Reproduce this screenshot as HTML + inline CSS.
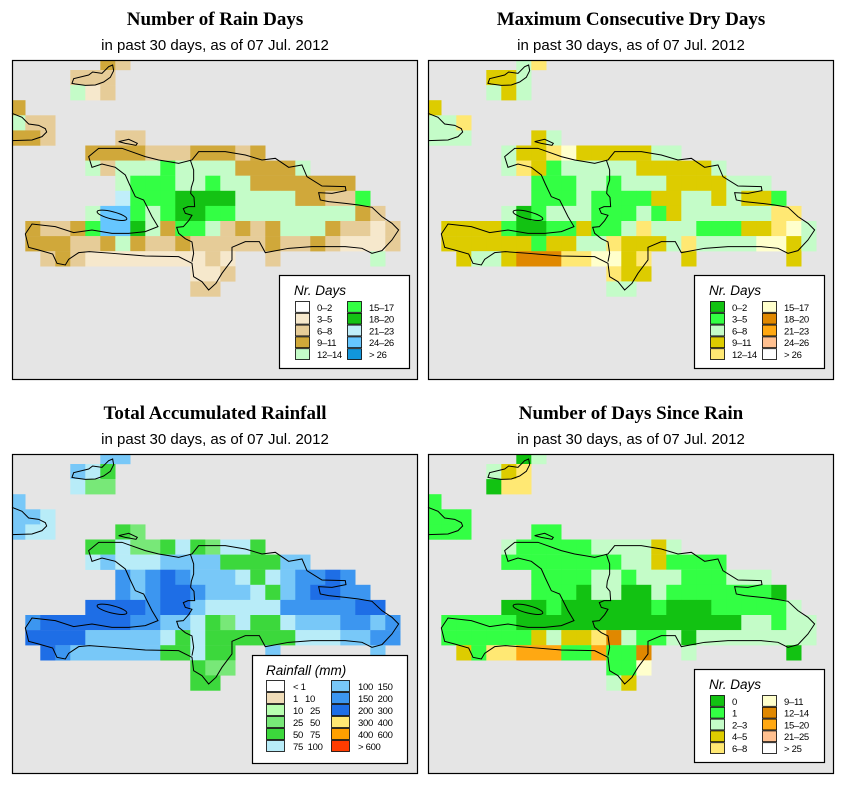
<!DOCTYPE html>
<html><head><meta charset="utf-8">
<style>
body{margin:0;background:#fff;width:853px;height:793px;overflow:hidden;font-family:"Liberation Sans",sans-serif}
svg{display:block}
.t{font-family:"Liberation Serif",serif;font-weight:bold;font-size:19px;text-anchor:middle}
.s{font-family:"Liberation Sans",sans-serif;font-size:15px;text-anchor:middle}
.lt{font-family:"Liberation Sans",sans-serif;font-style:italic;font-size:13.5px}
.ll{font-family:"Liberation Sans",sans-serif;font-size:9.5px;white-space:pre;letter-spacing:-0.3px}
</style></head><body>
<svg id="root" width="853" height="793" viewBox="0 0 853 793"></svg>
<script>
// ---- data ----
const rainDaysGrid=[
"......dc..................",
"....ccc...................",
"....ebc...................",
"d.........................",
"ecc.......................",
"ddc....cc.................",
".....ddddcccdddcd.........",
".....eceeefeeeedddde......",
".......efffeefeeddddddd...",
".......hfffggggeeeeddccf..",
".....eiifefggffeeeeeeeedc.",
".dccdfiigedffecdcdeeedccbc",
".dddccdedccdcccccdccdcbbbc",
"..cdcbbbbbbbbcb..c......e.",
"............bbc...........",
"............cc............"];
const dryDaysGrid=[
"......ce..................",
"....ddc...................",
"....cdc...................",
"d.........................",
"cce.......................",
"ccc....dc.................",
".....cddefdddddcc.........",
".....cedbcccccdddddc......",
".......bbbccbcccddddccc...",
".......bbbcbbbbddccdcddb..",
".....cabcccbbbcbdccccccee.",
".ddddbaabbdbbcecccbbbddefc",
".ddddddbddccedddceccccffdc",
"..dccdgggeeffde..d......d.",
"............edd...........",
"............cc............"];
const rainfallGrid=[
"......gg..................",
"....gfe...................",
"....fdd...................",
"g.........................",
"ggf.......................",
"gff....ed.................",
".....eefddefedffe.........",
".....fgfffggggeeeegg......",
".......hghihgggfefghhih...",
".......hghiihgggfeghiihh..",
".....iiiihiigfffffhhhhhii.",
".hiiiiiihhggfedfeefggghhgh",
".iiiigggggfefeeeeeefffgghh",
"..ihggggggeefee..g......g.",
"............edd...........",
"............ee............"];
const sinceRainGrid=[
"......ac..................",
"....cde...................",
"....aee...................",
"b.........................",
"bbb.......................",
"bbb....bb.................",
".....cbbbbbccccdc.........",
".....bbbbbbbbccdbbbb......",
".......bbbbccbcccbbbccc...",
".......bbbaccaacbbbbbbba..",
".....aaabaaaaaabaaabbbbbc.",
".bbbbbaaaaaaaaaaaaaaaccbcc",
".bbbbbbdcddegcbbcacccccccc",
"..dbeehhhbbhbbg..c......a.",
"............bbf...........",
"............cd............"];
const rainDaysColors={a:"#ffffff",b:"#f6e8cc",c:"#e6cc98",d:"#d0a83a",e:"#c4fcc8",f:"#33ff44",g:"#14c214",h:"#c0eefa",i:"#66c6ff",j:"#1196dc"};
const dryDaysColors={a:"#12c212",b:"#33ff44",c:"#c4fcc8",d:"#ddcc00",e:"#ffe873",f:"#ffffcc",g:"#e08800",h:"#ffa812",i:"#ffc090",j:"#ffffff"};
const rainfallColors={a:"#ffffff",b:"#f0dcb8",c:"#b8ffb0",d:"#78e878",e:"#3cd83c",f:"#b8ecf8",g:"#78c8f8",h:"#3c96f0",i:"#1e6ee6",k:"#ffe873",l:"#ffa000",m:"#ff3c00"};
const sinceRainColors={a:"#12c212",b:"#33ff44",c:"#c4fcc8",d:"#ddcc00",e:"#ffe873",f:"#ffffcc",g:"#e08800",h:"#ffa812",i:"#ffc090",j:"#ffffff"};
const rainDaysLegendKeys=["a","b","c","d","e","f","g","h","i","j"];
const rainDaysLegendLabels=["0–2","3–5","6–8","9–11","12–14","15–17","18–20","21–23","24–26","> 26"];
const dryDaysLegendKeys=["a","b","c","d","e","f","g","h","i","j"];
const dryDaysLegendLabels=["0–2","3–5","6–8","9–11","12–14","15–17","18–20","21–23","24–26","> 26"];
const rainfallLegendKeys=["a","b","c","d","e","f","g","h","i","k","l","m"];
const rainfallLegendLabels=["< 1","1   10","10   25","25   50","50   75","75  100","100  150","150  200","200  300","300  400","400  600","> 600"];
const sinceRainLegendKeys=["a","b","c","d","e","f","g","h","i","j"];
const sinceRainLegendLabels=["0","1","2–3","4–5","6–8","9–11","12–14","15–20","21–25","> 25"];

const NS="http://www.w3.org/2000/svg";
const root=document.getElementById('root');
function mk(tag,attrs,parent){const e=document.createElementNS(NS,tag);for(const k in attrs)e.setAttribute(k,attrs[k]);(parent||root).appendChild(e);return e;}

const coast="M230,290 L260,265 L330,265 L400,290 L440,300 L470,305 L500,310 L540,300 L560,275 L640,275 L700,285 L750,300 L790,295 L830,322 L870,315 L885,350 L930,378 L1000,380 L1002,392 L960,400 L920,398 L925,420 L950,425 L1000,430 L1040,435 L1080,442 L1110,470 L1140,490 L1160,510 L1140,540 L1110,572 L1080,580 L1050,565 L1000,560 L900,560 L830,565 L760,578 L742,545 L700,545 L660,562 L660,600 L630,640 L612,670 L590,690 L570,665 L545,650 L540,610 L500,590 L400,588 L300,580 L232,575 L200,578 L170,598 L160,615 L135,610 L122,582 L80,570 L50,562 L40,522 L60,492 L130,500 L185,518 L240,510 L300,520 L350,520 L400,515 L438,500 L420,470 L405,440 L395,420 L370,410 L352,372 L340,345 L310,322 L270,312 L240,322 L230,290 Z";
const cubaTip="M0,160 L30,172 L50,192 L80,196 L100,206 L104,216 L90,230 L60,240 L0,242";
const inagua="M180,70 L185,56 L230,45 L242,36 L270,40 L290,20 L302,15 L305,32 L295,52 L275,66 L250,75 L220,76 L190,72 Z";
const tortuga="M320,245 L350,238 L376,250 L372,256 L340,250 Z";
const border="M535,300 L545,330 L545,360 L538,382 L536,400 L546,412 L548,440 L528,440 L514,446 L520,460 L540,466 L530,482 L514,500 L494,502 L500,520 L520,536 L540,546 L545,580 L540,605";

function panel(name,fx,fy,title,grid,colors,legTitle,legKeys,legLabels,leg){
  const g=mk('g',{});
  
  
  const cx=fx+203;
  const t=mk('text',{x:cx,y:fy-35,class:'t'},g);t.textContent=title;
  
  const s=mk('text',{x:cx,y:fy-10,class:'s'},g);s.textContent="in past 30 days, as of  07 Jul. 2012";
  
  const clipId='c'+name;
  const cp=mk('clipPath',{id:clipId},g);mk('rect',{x:fx,y:fy,width:405,height:319},cp);
  const bg=mk('rect',{x:fx,y:fy,width:405,height:319,fill:'#e5e5e5'},g);
  
  const cells=mk('g',{'clip-path':'url(#'+clipId+')'},g);
  
  grid.forEach((row,q)=>{for(let p=0;p<row.length;p++){const ch=row[p];if(ch==='.')continue;
    const r=mk('rect',{x:fx-1.7+15*p,y:fy-5.1+15.1*q,width:15.2,height:15.3,fill:colors[ch]},cells);
    }});
  const cg=mk('g',{transform:`translate(${fx},${fy}) scale(0.3333)`,'fill':'none',stroke:'#000','stroke-width':3},g);
  
  [coast,cubaTip,inagua,tortuga,border].forEach(d=>mk('path',{d:d},cg));
  mk('ellipse',{cx:300,cy:466,rx:46,ry:11,transform:'rotate(14 300 466)'},cg);
  const fr=mk('rect',{x:fx+0.5,y:fy+0.5,width:405,height:319,fill:'none',stroke:'#000','stroke-width':1.2},g);
  
  const lg=mk('g',{},g);
  
  mk('rect',{x:leg.x+0.5,y:leg.y+0.5,width:leg.w,height:leg.h,fill:'#fff',stroke:'#000','stroke-width':1.2},lg);
  const lt=mk('text',{x:leg.x+leg.tx,y:leg.y+20,class:'lt'},lg);lt.textContent=legTitle;
  const per=Math.ceil(legKeys.length/2);
  legKeys.forEach((k,i)=>{const col=Math.floor(i/per),row=i%per;
    const sx=leg.x+leg.sx+col*leg.cs, sy=leg.y+leg.sy+row*leg.rs;
    const e=mk('g',{},lg);
    
    mk('rect',{x:sx+0.5,y:sy+0.5,width:leg.sw,height:leg.rs-1,fill:colors[k],stroke:'#000','stroke-width':0.8},e);
    const tx=mk('text',{x:sx+leg.sw+leg.lx,y:sy+leg.rs-2,class:'ll'},e);tx.textContent=legLabels[i];});
}
const smallLeg={w:130,h:93,tx:15,sx:16,sy:26,cs:52,rs:11.8,sw:14,lx:8};
panel('rain-days-panel',12,60,"Number of Rain Days",rainDaysGrid,rainDaysColors,"Nr. Days",rainDaysLegendKeys,rainDaysLegendLabels,Object.assign({x:279,y:275},smallLeg));
panel('dry-days-panel',428,60,"Maximum Consecutive Dry Days",dryDaysGrid,dryDaysColors,"Nr. Days",dryDaysLegendKeys,dryDaysLegendLabels,Object.assign({x:694,y:275},smallLeg));
panel('rainfall-panel',12,454,"Total Accumulated Rainfall",rainfallGrid,rainfallColors,"Rainfall (mm)",rainfallLegendKeys,rainfallLegendLabels,{x:252,y:655,w:155,h:108,tx:14,sx:14,sy:25,cs:65,rs:12,sw:18,lx:9});
panel('since-rain-panel',428,454,"Number of Days Since Rain",sinceRainGrid,sinceRainColors,"Nr. Days",sinceRainLegendKeys,sinceRainLegendLabels,Object.assign({x:694,y:669},smallLeg));
</script>
</body></html>
